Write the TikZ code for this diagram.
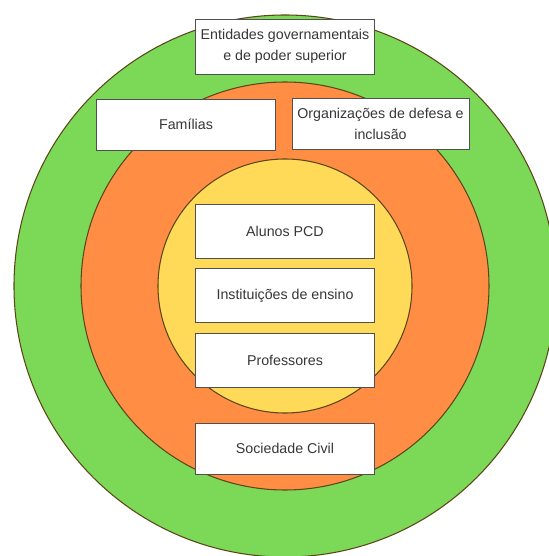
\documentclass[tikz,border=0pt]{standalone}
\usepackage{fontspec}
\setmainfont{Liberation Sans}
\usetikzlibrary{positioning}
\definecolor{ringgreen}{RGB}{124, 217, 87}
\definecolor{ringorange}{RGB}{255, 141, 68}
\definecolor{ringyellow}{RGB}{255, 217, 88}
\definecolor{ringline}{RGB}{90, 70, 25}
\definecolor{boxline}{RGB}{80, 80, 80}
\definecolor{boxtext}{RGB}{55, 55, 55}

\begin{document}
\begin{tikzpicture}[
        actor/.style={draw=boxline, fill=white, text=boxtext, line width=0.5pt,
            minimum width=3.58cm, minimum height=1.08cm, inner sep=1pt,
            align=center, font=\fontsize{8.1}{12.2}\selectfont},
        ring/.style={draw=ringline, line width=0.6pt}
    ]
        \useasboundingbox (-5.7,-5.4) rectangle (5.28,5.72);
        \fill[white] (-5.7,-5.4) rectangle (5.28,5.72);

        % the three rings
        \draw[ring, fill=ringgreen] (0,0) circle (5.42);
        \draw[ring, fill=ringorange] (0,0) circle (4.08);
        \draw[ring, fill=ringyellow] (0,0) circle (2.54);

        % outer ring
        \node[actor, minimum height=1.1cm] (gov) at (0,4.79) {Entidades governamentais\\e de poder superior};

        % middle ring
        \node[actor, minimum height=1.02cm] (fam) at (-1.98,3.23) {Famílias};
        \node[actor, minimum width=3.54cm, minimum height=1.02cm] (org) at (1.91,3.24) {Organizações de defesa e\\inclusão};
        \node[actor, minimum height=1.02cm] (soc) at (0,-3.25) {Sociedade Civil};

        % inner ring
        \node[actor] (alunos) at (0,1.1) {Alunos PCD};
        \node[actor, below=0.2cm of alunos] (inst) {Instituições de ensino};
        \node[actor, below=0.2cm of inst] (prof) {Professores};
    \end{tikzpicture}
\end{document}
